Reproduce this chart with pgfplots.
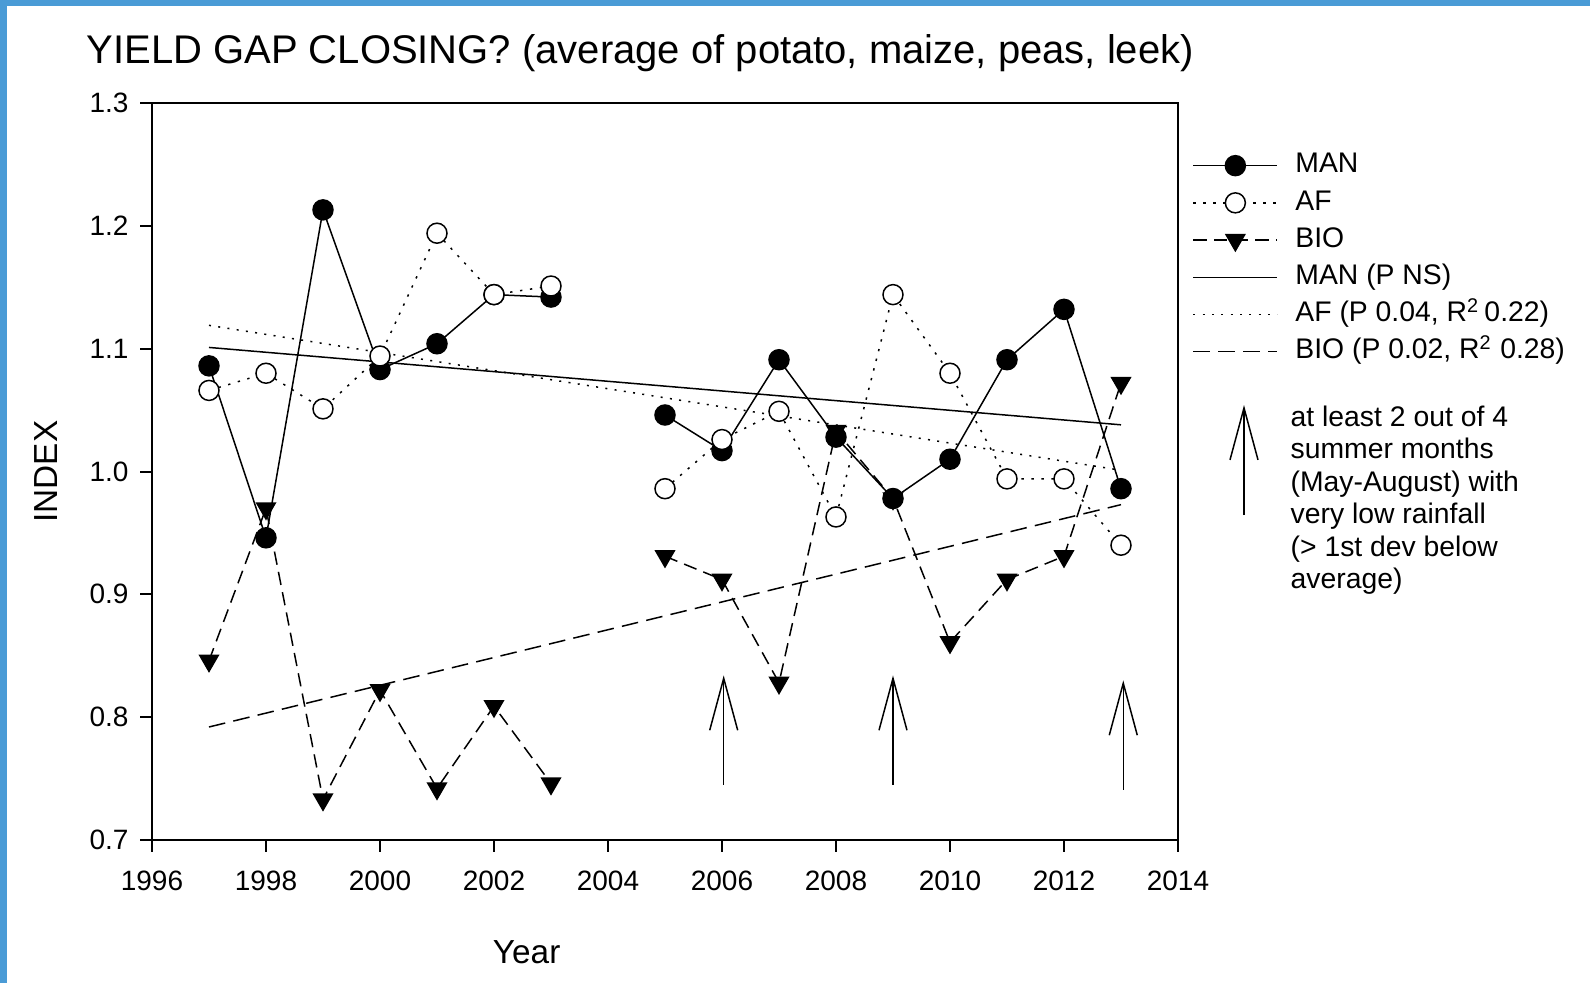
\documentclass[border=0pt]{standalone}
\usepackage{fontspec}
\setmainfont{Liberation Sans}
\usepackage{pgfplots}
\pgfplotsset{compat=1.18}
\usetikzlibrary{arrows.meta}
\definecolor{frameblue}{RGB}{74,155,214}

\begin{document}
\begin{tikzpicture}
\useasboundingbox (-45.6pt,-42.9pt) rectangle (431.4pt,252pt);
% blue frame of the screenshot
\fill[frameblue] (-45.6pt,250.2pt) rectangle (431.4pt,252pt);
\fill[frameblue] (-45.6pt,-42.9pt) rectangle (-43.5pt,252pt);

\begin{axis}[
  at={(0pt,0pt)}, anchor=south west,
  width=307.8pt, height=221.1pt, scale only axis,
  xmin=1996, xmax=2014, ymin=0.7, ymax=1.3,
  xtick={1996,1998,2000,2002,2004,2006,2008,2010,2012,2014},
  ytick={0.7,0.8,0.9,1.0,1.1,1.2,1.3},
  tick align=outside, tick pos=left, major tick length=3.5pt,
  axis line style={line width=0.6pt},
  major tick style={line width=0.6pt, black},
  /pgf/number format/assume math mode=true,
  tick label style={font=\fontsize{8.4}{10}\selectfont},
  xticklabel style={yshift=-2.4pt, /pgf/number format/set thousands separator={}},
  yticklabel style={/pgf/number format/.cd, fixed, fixed zerofill, precision=1},
  unbounded coords=jump,
  legend style={at={(1.0136,0.9333)}, anchor=north west, draw=none, fill=none,
    inner sep=0pt, font=\fontsize{8.5}{10}\selectfont, row sep=3.46pt,
    nodes={inner sep=0pt, text height=6pt, text depth=1.7pt},
    /tikz/every odd column/.append style={column sep=5.2pt}},
  legend cell align=left,
  legend image code/.code={\draw[mark repeat=2,mark phase=2]
    plot coordinates {(0pt,0pt)(12.6pt,0pt)(25.2pt,0pt)};},
]
\addlegendimage{black, line width=0.45pt, mark=*, mark size=3pt}
\addlegendentry{MAN}
\addlegendimage{black, line width=0.45pt, dash pattern=on 0.7pt off 2.3pt, mark=*, mark size=3pt, mark options={solid, fill=white}}
\addlegendentry{AF}
\addlegendimage{black, line width=0.45pt, dash pattern=on 4pt off 2.2pt, mark=triangle*, mark size=3.2pt, mark options={solid, rotate=180}}
\addlegendentry{BIO}
\addlegendimage{black, line width=0.45pt}
\addlegendentry{MAN (P NS)}
\addlegendimage{black, line width=0.45pt, dash pattern=on 0.6pt off 2.2pt}
\addlegendentry{AF (P 0.04, R\textsuperscript{2}\,0.22)}
\addlegendimage{black, line width=0.45pt, dash pattern=on 5pt off 2.5pt}
\addlegendentry{BIO (P 0.02, R\textsuperscript{2} 0.28)}

% regression lines
\addplot[forget plot, black, line width=0.45pt] coordinates {(1997,1.101)(2013,1.038)};
\addplot[forget plot, black, line width=0.45pt, dash pattern=on 0.6pt off 2.2pt] coordinates {(1997,1.119)(2013,1.001)};
\addplot[forget plot, black, line width=0.45pt, dash pattern=on 5pt off 2.5pt] coordinates {(1997,0.792)(2013,0.973)};

% BIO
\addplot[forget plot, black, line width=0.45pt, dash pattern=on 4pt off 2.2pt, mark=triangle*, mark size=3.2pt, mark options={solid, rotate=180}] coordinates {
  (1997,0.846)(1998,0.970)(1999,0.733)(2000,0.822)(2001,0.742)(2002,0.809)(2003,0.746)
  (2004,nan)
  (2005,0.931)(2006,0.912)(2007,0.828)(2008,1.033)(2009,0.978)(2010,0.861)(2011,0.912)(2012,0.931)(2013,1.072)};
% MAN
\addplot[forget plot, black, line width=0.45pt, mark=*, mark size=3pt] coordinates {
  (1997,1.086)(1998,0.946)(1999,1.213)(2000,1.083)(2001,1.104)(2002,1.144)(2003,1.142)
  (2004,nan)
  (2005,1.046)(2006,1.017)(2007,1.091)(2008,1.028)(2009,0.978)(2010,1.010)(2011,1.091)(2012,1.132)(2013,0.986)};
% AF
\addplot[forget plot, black, line width=0.45pt, dash pattern=on 0.7pt off 2.3pt, mark=*, mark size=3pt, mark options={solid, fill=white}] coordinates {
  (1997,1.066)(1998,1.080)(1999,1.051)(2000,1.094)(2001,1.194)(2002,1.144)(2003,1.151)
  (2004,nan)
  (2005,0.986)(2006,1.026)(2007,1.049)(2008,0.963)(2009,1.144)(2010,1.080)(2011,0.994)(2012,0.994)(2013,0.940)};

% dry summers
\draw[line width=0.45pt, -{Straight Barb[length=15.6pt, width=8.4pt]}] (axis cs:2006.03,0.745) -- (axis cs:2006.03,0.834);
\draw[line width=0.45pt, -{Straight Barb[length=15.6pt, width=8.4pt]}] (axis cs:2009.0,0.745) -- (axis cs:2009.0,0.834);
\draw[line width=0.45pt, -{Straight Barb[length=15.6pt, width=8.4pt]}] (axis cs:2013.04,0.741) -- (axis cs:2013.04,0.830);
\end{axis}

\node[anchor=base west, inner sep=0pt, font=\fontsize{12}{14}\selectfont] at (-19.8pt,232.8pt)
  {YIELD GAP CLOSING? (average of potato, maize, peas, leek)};
\node[anchor=base, inner sep=0pt, font=\fontsize{10}{12}\selectfont] at (112.4pt,-37pt) {Year};
\node[anchor=base, rotate=90, inner sep=0pt, font=\fontsize{10}{12}\selectfont] at (-28.3pt,110.5pt) {INDEX};

\draw[line width=0.45pt, -{Straight Barb[length=15.6pt, width=8.4pt]}] (327.6pt,97.5pt) -- (327.6pt,130.5pt);
\node[anchor=north west, inner sep=0pt, align=left, font=\fontsize{8.5}{9.75}\selectfont] at (341.4pt,130.5pt)
  {at least 2 out of 4\\summer months\\(May-August) with\\very low rainfall\\(> 1st dev below\\average)};
\end{tikzpicture}
\end{document}
